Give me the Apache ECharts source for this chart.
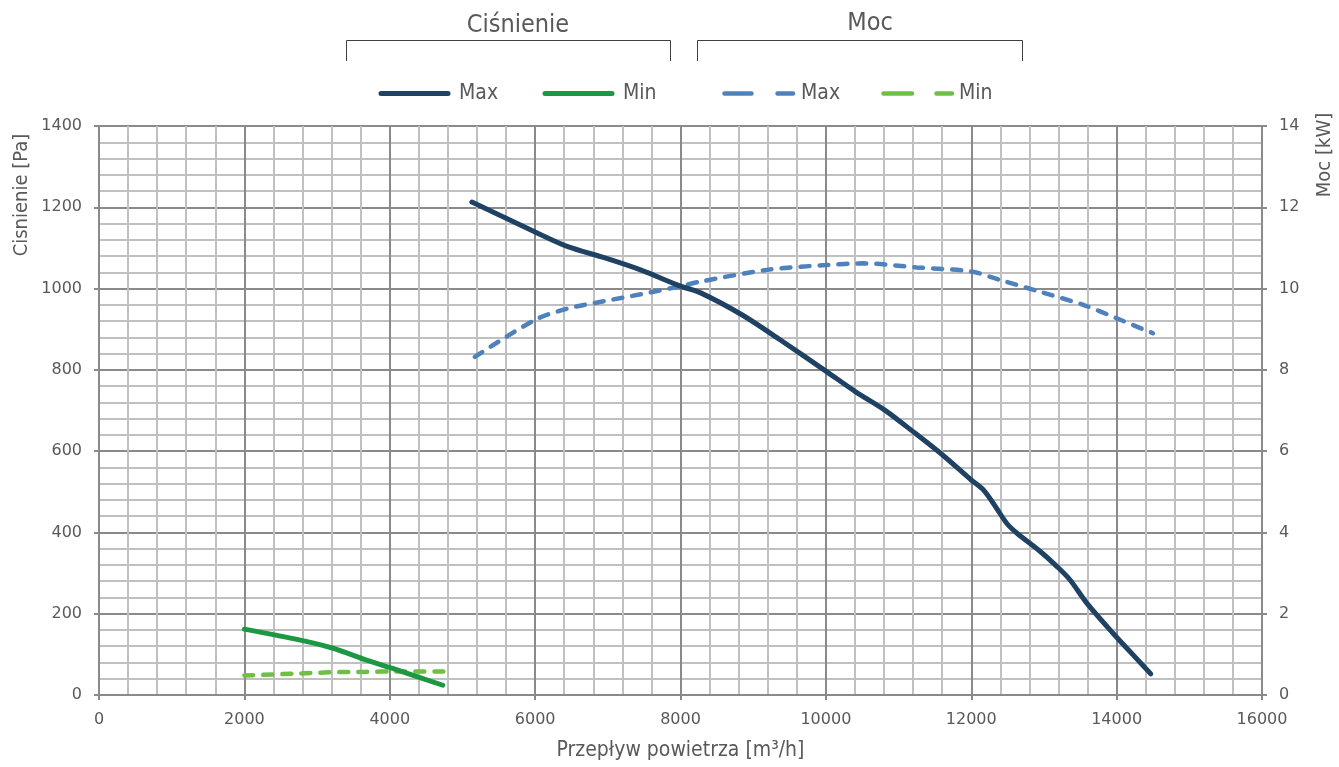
<!DOCTYPE html>
<html>
<head>
<meta charset="utf-8">
<script src="https://cdn.jsdelivr.net/npm/echarts@6/dist/echarts.min.js"></script>
<style>
  html, body { margin: 0; padding: 0; background: #ffffff; }
  #chart { width: 1339px; height: 767px; }
</style>
</head>
<body>
<div id="chart"></div>
<script>
// Fan curve: static pressure and absorbed power versus air flow
const pressureMaxFlow = [5130, 6000, 6450, 6950, 7450, 8000, 8270, 8850, 9370, 10000, 10410, 10810, 11200, 11610, 12000, 12170, 12350, 12490, 12630, 12950, 13180, 13360, 13590, 13950, 14230, 14470];
const pressureMaxPa   = [1213, 1139, 1103, 1076, 1046, 1006, 990, 935, 874, 797, 746, 701, 648, 590, 529, 504, 459, 422, 398, 353, 316, 283, 226, 152, 98, 52];

const pressureMinFlow = [2000, 2770, 3220, 3680, 4030, 4730];
const pressureMinPa   = [162, 135, 115, 86, 66, 24];

const powerMaxFlow = [5170, 6000, 6450, 6950, 7450, 8000, 8270, 9190, 10010, 10520, 11250, 12000, 12400, 12950, 13540, 14000, 14500];
const powerMaxKw   = [8.32, 9.23, 9.51, 9.69, 9.86, 10.06, 10.17, 10.46, 10.58, 10.62, 10.52, 10.42, 10.21, 9.92, 9.60, 9.27, 8.90];

const powerMinFlow = [2000, 2770, 3220, 3680, 4030, 4760];
const powerMinKw   = [0.48, 0.53, 0.56, 0.57, 0.58, 0.58];

const seriesNames = ['Ciśnienie Max', 'Ciśnienie Min', 'Moc Max', 'Moc Min'];
const groupTitles = ['Ciśnienie', 'Moc'];
const axisNames = { x: 'Przepływ powietrza [m³/h]', left: 'Cisnienie [Pa]', right: 'Moc [kW]' };

const zip = (xs, ys) => xs.map((x, i) => [x, ys[i]]);
const plainNumber = v => String(v);

const NARROW = '"Liberation Sans Narrow", "DejaVu Sans Condensed", "Open Sans", sans-serif';
const NUM = '"DejaVu Sans", sans-serif';
const TEXT = '#595959';
const MAJOR = '#8a8a8a';
const MINOR = '#c0c0c0';

const COLORS = {
  pMax: '#1f4163',
  pMin: '#1c9742',
  mMax: '#4f81bd',
  mMin: '#6fbf45'
};

const legendText = { fontFamily: NARROW, fontSize: 21, color: TEXT };
const shortName = name => name.split(' ')[1];

function makeLegend(name, left, width, pad, lineStyle) {
  return {
    left: left, top: 83, padding: 0,
    itemWidth: width, itemHeight: 14,
    data: [{ name: name }],
    formatter: shortName,
    selectedMode: false,
    itemStyle: { opacity: 0 },
    lineStyle: Object.assign({ cap: 'round' }, lineStyle),
    textStyle: Object.assign({ padding: [0, 0, 0, pad] }, legendText)
  };
}

const bracket = (x1, x2) => ({
  type: 'polyline',
  shape: { points: [[x1, 61], [x1, 40.5], [x2, 40.5], [x2, 61]] },
  style: { stroke: '#404040', lineWidth: 1, fill: null },
  silent: true
});

const option = {
  animation: false,
  backgroundColor: '#ffffff',
  grid: { left: 99, right: 77, top: 126, bottom: 72, containLabel: false, outerBoundsMode: 'none' },
  legend: [
    makeLegend(seriesNames[0], 378.5, 67, 6, { width: 5 }),
    makeLegend(seriesNames[1], 542.5, 67, 6, { width: 5 }),
    makeLegend(seriesNames[2], 722.25, 68.5, 3, { width: 4.5, type: [27, 26] }),
    makeLegend(seriesNames[3], 881.25, 68.5, 2, { width: 4.5, type: [28.5, 24.5] })
  ],
  graphic: [
    { type: 'text', x: 518, y: 25, silent: true,
      style: { text: groupTitles[0], font: '25px ' + NARROW, fill: TEXT, align: 'center', verticalAlign: 'middle' } },
    { type: 'text', x: 870, y: 23, silent: true,
      style: { text: groupTitles[1], font: '25px ' + NARROW, fill: TEXT, align: 'center', verticalAlign: 'middle' } },
    bracket(346.5, 670.5),
    bracket(697.5, 1022.5),
    { type: 'text', x: 22, y: 195, rotation: Math.PI / 2, silent: true,
      style: { text: axisNames.left, font: '20px ' + NARROW, fill: TEXT, align: 'center', verticalAlign: 'middle' } },
    { type: 'text', x: 1325, y: 155, rotation: Math.PI / 2, silent: true,
      style: { text: axisNames.right, font: '20px ' + NARROW, fill: TEXT, align: 'center', verticalAlign: 'middle' } }
  ],
  xAxis: {
    type: 'value', min: 0, max: 16000, interval: 2000,
    name: axisNames.x, nameLocation: 'middle', nameGap: 45,
    nameTextStyle: { fontFamily: NARROW, fontSize: 21, color: TEXT },
    axisLine: { show: true, onZero: false, lineStyle: { color: MAJOR, width: 2 } },
    axisTick: { show: true, length: 5, lineStyle: { color: MAJOR, width: 2 } },
    axisLabel: { margin: 17, fontFamily: NUM, fontSize: 16, color: TEXT, formatter: plainNumber },
    splitLine: { show: true, lineStyle: { color: MAJOR, width: 2 } },
    minorTick: { show: false, splitNumber: 5 },
    minorSplitLine: { show: true, lineStyle: { color: MINOR, width: 2 } }
  },
  yAxis: [
    {
      type: 'value', min: 0, max: 1400, interval: 200, position: 'left',
      axisLine: { show: true, onZero: false, lineStyle: { color: MAJOR, width: 2 } },
      axisTick: { show: true, length: 5, lineStyle: { color: MAJOR, width: 2 } },
      axisLabel: { margin: 17, fontFamily: NUM, fontSize: 16, color: TEXT, formatter: plainNumber },
      splitLine: { show: true, lineStyle: { color: MAJOR, width: 2 } },
      minorTick: { show: false, splitNumber: 5 },
      minorSplitLine: { show: true, lineStyle: { color: MINOR, width: 2 } }
    },
    {
      type: 'value', min: 0, max: 14, interval: 2, position: 'right',
      axisLine: { show: true, onZero: false, lineStyle: { color: MAJOR, width: 2 } },
      axisTick: { show: true, length: 5, lineStyle: { color: MAJOR, width: 2 } },
      axisLabel: { margin: 17, fontFamily: NUM, fontSize: 16, color: TEXT, formatter: plainNumber },
      splitLine: { show: false }
    }
  ],
  series: [
    {
      name: seriesNames[2], type: 'line', yAxisIndex: 1,
      data: zip(powerMaxFlow, powerMaxKw),
      symbol: 'none', smooth: 0.3, silent: true, z: 3,
      lineStyle: { color: COLORS.mMax, width: 4.5, type: [9, 10], cap: 'round' },
      itemStyle: { color: COLORS.mMax }
    },
    {
      name: seriesNames[3], type: 'line', yAxisIndex: 1,
      data: zip(powerMinFlow, powerMinKw),
      symbol: 'none', smooth: 0.3, silent: true, z: 3,
      lineStyle: { color: COLORS.mMin, width: 4.5, type: [9, 10], cap: 'round' },
      itemStyle: { color: COLORS.mMin }
    },
    {
      name: seriesNames[0], type: 'line', yAxisIndex: 0,
      data: zip(pressureMaxFlow, pressureMaxPa),
      symbol: 'none', smooth: 0.3, silent: true, z: 4,
      lineStyle: { color: COLORS.pMax, width: 5, cap: 'round' },
      itemStyle: { color: COLORS.pMax }
    },
    {
      name: seriesNames[1], type: 'line', yAxisIndex: 0,
      data: zip(pressureMinFlow, pressureMinPa),
      symbol: 'none', smooth: 0.3, silent: true, z: 4,
      lineStyle: { color: COLORS.pMin, width: 5, cap: 'round' },
      itemStyle: { color: COLORS.pMin }
    }
  ]
};

const chart = echarts.init(document.getElementById('chart'), null, { renderer: 'canvas' });
chart.setOption(option);
</script>
</body>
</html>
